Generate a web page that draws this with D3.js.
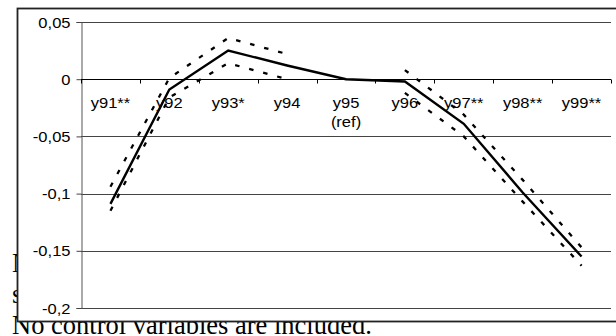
<!DOCTYPE html>
<html>
<head>
<meta charset="utf-8">
<script src="https://cdn.jsdelivr.net/npm/d3@7"></script>
<style>
body { margin: 0; background: #fff; }
</style>
</head>
<body>
<div id="chart"></div>
<script>
// categories + estimates
var categories = ["y91**", "y92", "y93*", "y94", "y95", "y96", "y97**", "y98**", "y99**"];
var subLabels = ["", "", "", "", "(ref)", "", "", "", ""];
var estimate = [-0.109, -0.009, 0.025, 0.012, 0, -0.002, -0.039, -0.099, -0.155];
var upper = [-0.094, 0.001, 0.036, 0.022, null, 0.008, -0.031, -0.088, -0.147];
var lower = [-0.115, -0.016, 0.014, 0.000, null, -0.012, -0.050, -0.107, -0.163];
var yTicks = [0.05, 0, -0.05, -0.1, -0.15, -0.2];
var noteLines = ["N", "s", "No control variables are included."];

var w = 616;
var h = 336;
var stretch = 1.18;

var svg = d3.select("#chart")
    .append("svg")
    .attr("width", w)
    .attr("height", h);

// text of the page behind the chart box
svg.selectAll("text.note")
    .data(noteLines)
    .enter()
    .append("text")
    .attr("class", "note")
    .attr("x", 12)
    .attr("y", function (d, i) { return 272 + i * 31; })
    .style("font-family", "'Liberation Serif', 'Times New Roman', serif")
    .style("font-size", "26.5px")
    .attr("fill", "#000")
    .text(function (d) { return d; });

// chart box
svg.append("rect")
    .attr("x", 17.5)
    .attr("y", 8.5)
    .attr("width", 640)
    .attr("height", 313)
    .attr("fill", "#fff")
    .attr("stroke", "#222")
    .attr("stroke-width", 1.8);

var xScale = d3.scaleBand()
    .domain(categories)
    .range([81, 611])
    .padding(0);

var yScale = d3.scaleLinear()
    .domain([-0.2, 0.05])
    .range([308, 22]);

function cx(i) { return xScale(categories[i]) + xScale.bandwidth() / 2; }
function fmt(d) { return d === 0 ? "0" : String(d).replace(".", ","); }

// gridlines
svg.selectAll("line.grid")
    .data(yTicks.filter(function (d) { return d !== 0; }))
    .enter()
    .append("line")
    .attr("class", "grid")
    .attr("x1", 81)
    .attr("x2", 611)
    .attr("y1", function (d) { return Math.round(yScale(d)) + 0.5; })
    .attr("y2", function (d) { return Math.round(yScale(d)) + 0.5; })
    .attr("stroke", "#444")
    .attr("stroke-width", 1);

// y axis
var yAxis = d3.axisLeft(yScale)
    .tickValues(yTicks)
    .tickSize(5)
    .tickFormat(fmt);

var gy = svg.append("g")
    .attr("transform", "translate(81.5,0)")
    .call(yAxis);
gy.select(".domain").attr("stroke", "#555");
gy.selectAll(".tick line").attr("stroke", "#444");
gy.selectAll(".tick text")
    .attr("x", 0)
    .attr("dy", "0.36em")
    .attr("transform", "translate(-11,0) scale(" + stretch + ",1)")
    .style("font-family", "'Liberation Sans', Arial, sans-serif")
    .style("font-size", "14px")
    .attr("fill", "#000");

// zero line with category ticks
var y0 = Math.round(yScale(0)) + 0.5;
svg.append("line")
    .attr("x1", 81)
    .attr("x2", 611)
    .attr("y1", y0)
    .attr("y2", y0)
    .attr("stroke", "#000")
    .attr("stroke-width", 1);

var bounds = categories.map(function (c) { return xScale(c); }).concat([xScale.range()[1]]);
svg.selectAll("line.xtick")
    .data(bounds)
    .enter()
    .append("line")
    .attr("class", "xtick")
    .attr("x1", function (d) { return Math.round(d) + 0.5; })
    .attr("x2", function (d) { return Math.round(d) + 0.5; })
    .attr("y1", y0)
    .attr("y2", y0 + 4)
    .attr("stroke", "#000");

var labels = svg.selectAll("g.xlab")
    .data(categories)
    .enter()
    .append("g")
    .attr("class", "xlab")
    .attr("transform", function (d, i) { return "translate(" + cx(i) + ",0) scale(" + stretch + ",1)"; });

labels.append("text")
    .attr("y", 108)
    .attr("text-anchor", "middle")
    .style("font-family", "'Liberation Sans', Arial, sans-serif")
    .style("font-size", "14px")
    .text(function (d) { return d; });

labels.append("text")
    .attr("y", 127)
    .attr("text-anchor", "middle")
    .style("font-family", "'Liberation Sans', Arial, sans-serif")
    .style("font-size", "14px")
    .text(function (d, i) { return subLabels[i]; });

// lines
var line = d3.line()
    .defined(function (d) { return d !== null; })
    .x(function (d, i) { return cx(i); })
    .y(function (d) { return yScale(d); });

svg.append("path")
    .datum(upper)
    .attr("d", line)
    .attr("fill", "none")
    .attr("stroke", "#000")
    .attr("stroke-width", 2.3)
    .attr("stroke-dasharray", "4.5,10");

svg.append("path")
    .datum(lower)
    .attr("d", line)
    .attr("fill", "none")
    .attr("stroke", "#000")
    .attr("stroke-width", 2.3)
    .attr("stroke-dasharray", "4.5,10");

svg.append("path")
    .datum(estimate)
    .attr("d", line)
    .attr("fill", "none")
    .attr("stroke", "#000")
    .attr("stroke-width", 2.4);
</script>
</body>
</html>
